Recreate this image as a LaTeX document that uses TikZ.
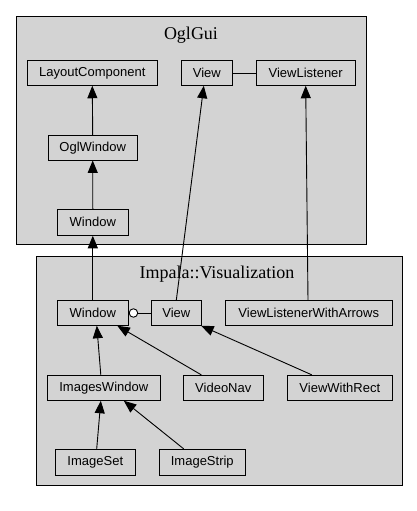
\documentclass[tikz,border=0pt]{standalone}
\usepackage{fontspec}
\setmainfont{Liberation Serif}
\setsansfont{Liberation Sans}
\usetikzlibrary{arrows.meta}
\definecolor{clgray}{HTML}{D3D3D3}
\begin{document}
\begin{tikzpicture}[x=1pt,y=-1pt,
  cls/.style={draw=black,fill=clgray,line width=0.9pt},
  box/.style={draw=black,fill=clgray,line width=0.9pt,inner sep=0pt,minimum height=24.6pt,font=\sffamily\fontsize{13}{15}\selectfont},
  ttl/.style={font=\fontsize{18}{20}\selectfont},
  inh/.style={-{Triangle[length=12.5pt,width=10pt]},line width=0.9pt},
  assoc/.style={line width=0.9pt}
]
\useasboundingbox (0,0) rectangle (417,511);
\fill[white] (0,0) rectangle (417,511);
% clusters
\draw[cls] (16,16) rectangle (366,244);
\node[ttl] (t1) at (191,35) {OglGui};
\draw[cls] (36,256) rectangle (402,485);
\node[ttl] (t2) at (217,274) {Impala::Visualization};
% nodes top
\node[box,minimum width=130pt] (LC) at (92.3,73) {LayoutComponent};
\node[box,minimum width=51pt] (V1) at (206.8,73) {View};
\node[box,minimum width=99.3pt] (VL) at (305.7,73) {ViewListener};
\node[box,minimum width=88.7pt] (OW) at (92.7,147.7) {OglWindow};
\node[box,minimum width=71pt,minimum height=26pt] (W1) at (92.8,222.3) {Window};
% nodes bottom
\node[box,minimum width=71pt] (W2) at (92.8,313) {Window};
\node[box,minimum width=50pt] (V2) at (176.3,313) {View};
\node[box,minimum width=167pt] (VLWA) at (308.8,313) {ViewListenerWithArrows};
\node[box,minimum width=113pt,minimum height=25pt] (IW) at (103.8,387.8) {ImagesWindow};
\node[box,minimum width=80pt,minimum height=25pt] (VN) at (223.3,387.8) {VideoNav};
\node[box,minimum width=105pt,minimum height=25pt] (VWR) at (339.8,387.8) {ViewWithRect};
\node[box,minimum width=80pt,minimum height=26pt] (IS) at (95.3,462.3) {ImageSet};
\node[box,minimum width=86pt,minimum height=26pt] (ISt) at (202.3,462.3) {ImageStrip};
% edges
\draw[inh] (OW.north) -- (LC.south);
\draw[inh] (W1.north) -- (OW.south);
\draw[inh] (W2.north) -- (W1.south);
\draw[assoc] (V1.east) -- (VL.west);
\draw[inh] (V2.north) -- ([xshift=-3pt]V1.south);
\draw[inh] ([xshift=-0.8pt]VLWA.north) -- (VL.south);
\draw[assoc,{Circle[open,length=9.4pt,fill=white]}-] (W2.east) -- (V2.west);
\draw[inh] ([xshift=-3pt]IW.north) -- ([xshift=4pt]W2.south);
\draw[inh] ([xshift=-22pt]VN.north) -- ([xshift=24.5pt]W2.south);
\draw[inh] ([xshift=-28pt]VWR.north) -- ([xshift=-0.6pt]V2.south east);
\draw[inh] ([xshift=1.4pt]IS.north) -- ([xshift=-3pt]IW.south);
\draw[inh] ([xshift=-18.6pt]ISt.north) -- ([xshift=20pt]IW.south);
\end{tikzpicture}
\end{document}
